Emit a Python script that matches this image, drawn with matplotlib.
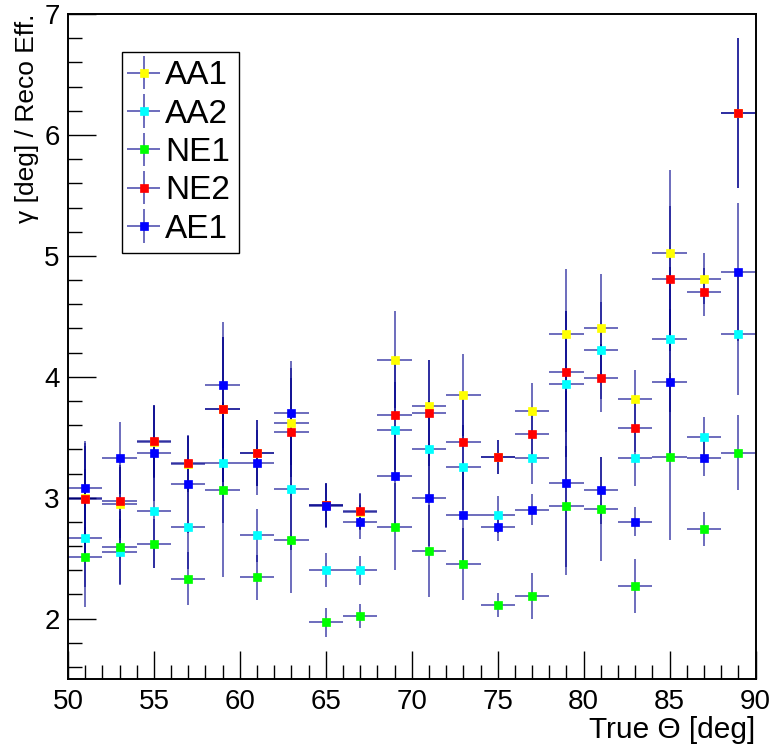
import matplotlib
matplotlib.use("Agg")
import matplotlib.pyplot as plt
from matplotlib.ticker import MultipleLocator

plt.rcParams['font.family'] = ['Liberation Sans', 'DejaVu Sans']

theta = [51, 53, 55, 57, 59, 61, 63, 65, 67, 69, 71, 73, 75, 77, 79, 81, 83, 85, 87, 89]
theta_err = [1.0] * len(theta)

aa1 = [3.00, 2.95, 3.46, 3.28, 3.73, 3.37, 3.62, 2.94, 2.88, 4.14, 3.76, 3.85, 3.34, 3.72, 4.35, 4.40, 3.82, 5.02, 4.81, 6.18]
aa2 = [2.67, 2.55, 2.89, 2.76, 3.29, 2.69, 3.07, 2.40, 2.40, 3.56, 3.40, 3.25, 2.86, 3.33, 3.94, 4.22, 3.33, 4.31, 3.50, 4.35]
ne1 = [2.51, 2.59, 2.62, 2.33, 3.06, 2.34, 2.65, 1.97, 2.02, 2.76, 2.56, 2.45, 2.11, 2.19, 2.93, 2.91, 2.27, 3.34, 2.74, 3.37]
ne2 = [2.99, 2.97, 3.47, 3.29, 3.73, 3.37, 3.54, 2.94, 2.89, 3.68, 3.70, 3.46, 3.34, 3.53, 4.04, 3.99, 3.58, 4.81, 4.70, 6.18]
ae1 = [3.08, 3.33, 3.37, 3.11, 3.93, 3.29, 3.70, 2.93, 2.80, 3.18, 3.00, 2.86, 2.76, 2.90, 3.12, 3.06, 2.80, 3.96, 3.33, 4.87]

aa1_err = [0.45, 0.30, 0.30, 0.23, 0.60, 0.27, 0.45, 0.18, 0.15, 0.40, 0.38, 0.34, 0.14, 0.23, 0.54, 0.45, 0.24, 0.69, 0.21, 0.62]
aa2_err = [0.57, 0.27, 0.47, 0.35, 0.50, 0.22, 0.50, 0.14, 0.12, 0.40, 0.40, 0.35, 0.15, 0.22, 0.60, 0.40, 0.23, 0.60, 0.17, 0.50]
ne1_err = [0.25, 0.30, 0.20, 0.22, 0.72, 0.19, 0.44, 0.12, 0.10, 0.36, 0.38, 0.30, 0.10, 0.19, 0.50, 0.43, 0.22, 0.69, 0.14, 0.31]
ne2_err = [0.48, 0.30, 0.30, 0.23, 0.60, 0.27, 0.45, 0.18, 0.15, 0.45, 0.44, 0.40, 0.14, 0.20, 0.50, 0.28, 0.20, 0.60, 0.20, 0.62]
ae1_err = [0.35, 0.30, 0.40, 0.40, 0.52, 0.27, 0.43, 0.18, 0.14, 0.40, 0.40, 0.40, 0.12, 0.13, 0.76, 0.28, 0.12, 0.60, 0.15, 0.57]

series = [
    ("AA1", aa1, aa1_err, "#ffff00"),
    ("AA2", aa2, aa2_err, "#00ffff"),
    ("NE1", ne1, ne1_err, "#00ff00"),
    ("NE2", ne2, ne2_err, "#ff0000"),
    ("AE1", ae1, ae1_err, "#0000ff"),
]

fig = plt.figure(figsize=(7.70, 7.44), dpi=100)
ax = fig.add_axes([0.0883, 0.0873, 0.8929, 0.8938])

ecol = (0.0, 0.0, 0.55, 0.62)
for name, vals, errs, col in series:
    ax.errorbar(theta, vals, xerr=theta_err, yerr=errs, fmt='s', ms=6.2,
                mfc=col, mec=col, mew=0.5, ecolor=ecol, elinewidth=1.3,
                capsize=0, label=name)

ax.set_xlim(50, 90)
ax.set_ylim(1.5, 7)
ax.xaxis.set_major_locator(MultipleLocator(5))
ax.xaxis.set_minor_locator(MultipleLocator(1))
ax.yaxis.set_major_locator(MultipleLocator(1))
ax.yaxis.set_minor_locator(MultipleLocator(0.2))
ax.tick_params(which='both', direction='in', top=False, right=False, labelsize=20, width=1.0)
ax.tick_params(which='major', length=20)
ax.tick_params(which='minor', length=10)
ax.tick_params(axis='x', pad=7)
ax.tick_params(axis='y', pad=6)
for sp in ax.spines.values():
    sp.set_linewidth(1.4)

yticks = [2, 3, 4, 5, 6, 7]
ax.set_yticks(yticks)
ax.set_yticklabels([str(t) for t in yticks])

ax.set_xlabel("True \u0398 [deg]", loc='right', fontsize=21.5, labelpad=1)
ax.set_ylabel("\u03b3 [deg] / Reco Eff.", loc='top', fontsize=19, labelpad=4)

leg = ax.legend(loc='upper left', bbox_to_anchor=(0.0786, 0.943), fontsize=24,
                frameon=True, fancybox=False, edgecolor='black', framealpha=1,
                handlelength=0.8, handletextpad=0.25, borderpad=0.25,
                labelspacing=0.22, borderaxespad=0.0)
leg.get_frame().set_linewidth(1.0)

fig.savefig("out.png", dpi=100)
